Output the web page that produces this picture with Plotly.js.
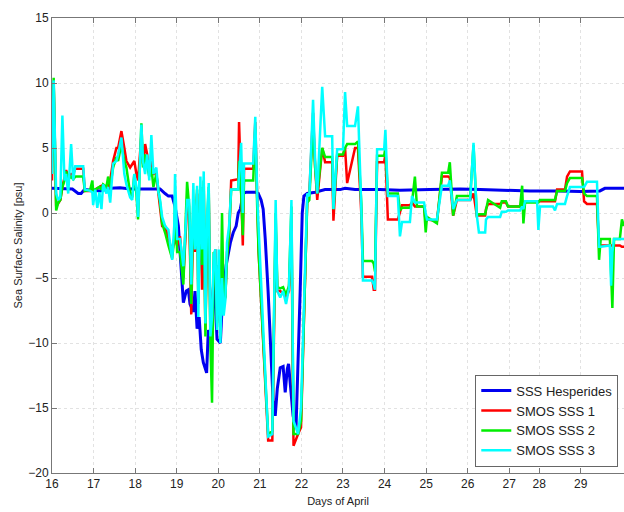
<!DOCTYPE html>
<html>
<head>
<meta charset="utf-8">
<script src="https://cdn.plot.ly/plotly-3.0.1.min.js"></script>
<style>html,body{margin:0;padding:0;background:#fff;}#chart{width:624px;height:512px;}</style>
</head>
<body>
<div id="chart"></div>
<script>
// Hesperides ship-measured SSS (day position, value)
const hespDays = [16.00,16.20,16.49,16.63,16.70,16.78,16.92,17.16,17.40,17.64,17.88,18.12,18.36,18.60,18.72,18.80,18.89,18.96,19.04,19.08,19.16,19.23,19.28,19.32,19.40,19.44,19.49,19.54,19.59,19.64,19.69,19.72,19.76,19.81,19.85,19.90,19.97,20.05,20.09,20.14,20.19,20.29,20.36,20.43,20.48,20.53,20.60,20.67,20.89,20.96,21.03,21.08,21.13,21.20,21.27,21.32,21.37,21.42,21.49,21.56,21.61,21.66,21.69,21.73,21.80,21.87,21.92,21.97,22.02,22.06,22.14,22.33,22.57,22.93,23.05,23.29,23.89,24.37,25.09,25.82,26.30,26.78,27.50,28.22,28.70,29.18,29.30,29.76];
const hespSSS  = [1.9,1.9,1.85,1.5,1.5,1.8,1.75,1.7,1.9,1.95,1.85,1.85,1.9,1.85,1.5,1.3,1.3,0.5,-1.0,-2.8,-6.9,-6.0,-5.9,-7.0,-7.6,-6.0,-8.9,-8.0,-10.5,-11.5,-12.0,-12.3,-9.0,-9.5,-7.2,-5.0,-9.7,-10.0,-7.4,-5.5,-4.0,-2.3,-1.5,-1.0,0.0,0.3,1.5,1.6,1.6,1.5,1.0,0.3,-2.0,-6.1,-11.0,-14.5,-15.6,-13.5,-11.9,-11.8,-13.8,-12.0,-11.6,-13.0,-15.6,-16.6,-12.0,-6.0,0.0,1.3,1.5,1.6,1.8,1.8,1.9,1.8,1.8,1.75,1.8,1.85,1.8,1.75,1.7,1.7,1.65,1.7,1.9,1.9];

// SMOS retrievals (shared day positions)
const smosDays = [16.00,16.04,16.10,16.15,16.20,16.25,16.30,16.34,16.39,16.46,16.51,16.56,16.75,16.79,16.92,16.97,16.99,17.04,17.09,17.14,17.19,17.23,17.31,17.35,17.40,17.47,17.55,17.59,17.67,17.74,17.79,17.88,17.93,17.98,18.03,18.07,18.15,18.19,18.24,18.29,18.34,18.39,18.44,18.51,18.56,18.60,18.65,18.72,18.80,18.89,18.94,18.96,19.01,19.08,19.16,19.25,19.30,19.35,19.40,19.44,19.49,19.52,19.57,19.61,19.65,19.69,19.73,19.77,19.81,19.85,19.89,19.93,19.97,20.01,20.05,20.09,20.13,20.17,20.21,20.26,20.31,20.48,20.50,20.55,20.59,20.62,20.84,20.89,20.94,20.97,21.20,21.30,21.38,21.42,21.49,21.56,21.63,21.70,21.76,21.81,21.92,21.99,22.14,22.19,22.28,22.33,22.38,22.50,22.57,22.74,22.77,22.86,23.00,23.05,23.10,23.29,23.36,23.44,23.48,23.70,23.74,23.77,23.82,23.99,24.02,24.08,24.32,24.37,24.42,24.61,24.66,24.73,24.78,24.95,24.99,25.02,25.26,25.38,25.53,25.57,25.65,25.74,26.06,26.14,26.22,26.27,26.42,26.44,26.49,26.78,26.82,26.92,26.97,27.26,27.31,27.34,27.38,27.67,27.70,27.74,28.05,28.10,28.15,28.34,28.39,28.46,28.75,28.80,28.87,29.11,29.16,29.20,29.42,29.45,29.48,29.52,29.66,29.71,29.76];
const smos3 = [3,10.2,1.5,1.0,1.2,7.5,2.5,3.0,1.5,5.3,2.5,3.6,3.6,1.8,1.7,1.6,0.6,1.8,0.4,1.6,0.3,2.2,1.5,2.0,0.8,3.8,4.0,4.5,5.8,3.0,2.2,1.2,1.0,3.0,2.0,-0.3,6.8,4.0,3.0,4.5,2.5,6.0,3.0,3.5,1.6,1.0,-0.3,-1.0,-1.3,-3.6,-1.0,3.0,-2.0,-2.0,-4.1,1.0,1.0,-5.5,2.3,-2.8,2.1,-8.0,2.8,-2.8,3.2,-8.5,-0.3,2.3,-9.5,-8.0,-3.2,-2.8,-9.0,-2.8,-10.0,-5.0,-7.9,-6.7,-2.3,-1.0,1.8,1.8,3.0,5.4,0.0,3.8,3.8,7.4,1.0,-1.0,-17.2,-17.0,1.0,-6.0,-6.5,-6.0,-7.0,-5.8,1.0,-16.0,-17.0,-15.0,1.5,1.3,8.7,4.0,1.5,9.7,5.9,5.9,0.3,4.9,4.9,9.3,6.7,6.7,8.2,0.5,-5.2,-5.2,-5.5,-5.9,4.9,4.9,6.4,1.3,1.3,-1.8,-0.7,-0.7,1.3,0.8,0.8,0.8,0.0,-0.5,-0.5,2.1,2.1,2.5,0.3,1.0,1.0,5.4,-0.2,-1.5,-1.5,-0.5,-0.3,-0.3,0.1,0.1,0.2,0.2,0.5,0.3,0.9,0.9,-1.3,0.5,0.5,0.2,0.7,0.7,1.3,2.0,2.0,2.0,2.4,2.4,-2.6,-2.6,-2.5,-5.6,-3.0,-2.0,-2.0,-2.0,-2.0];
const smos1 = [2.5,10,0.5,0.8,1.0,2.0,2.8,3.3,2.8,3.0,3.0,3.4,3.4,1.7,1.7,1.8,1.7,1.8,1.9,2.0,2.1,2.0,1.8,1.8,2.5,4.0,5.0,5.0,6.3,5.0,4.0,3.5,3.8,4.0,3.0,2.5,6.0,3.8,5.3,4.5,3.0,4.0,3.0,3.0,1.5,0.5,-1.0,-1.0,-2.0,-3.0,-2.0,-2.0,-2.5,-1.8,-5.0,0.5,0.0,-7.8,0.0,-3.0,1.5,-6.5,1.5,-5.9,2.0,-9.0,-2.0,1.5,-9.0,-9.0,-4.0,-2.8,-8.0,-4.0,-9.0,-4.0,-6.0,-6.5,-3.0,-2.0,2.5,2.6,7.0,1.0,-2.5,3.4,3.4,7.0,1.0,-3.0,-17.5,-17.5,-1.0,-6.0,-6.0,-6.2,-6.5,-6.0,-1.0,-17.9,-17.0,-16.5,1.0,1.5,7.7,3.5,1.0,5.0,3.9,3.9,-0.6,4.4,4.4,5.0,2.3,5.0,5.0,0.0,-4.9,-4.9,-5.9,-5.9,3.9,3.9,4.5,-0.5,-0.5,0.0,0.6,0.6,0.8,0.5,0.5,0.5,-0.7,-0.5,-0.6,2.8,2.8,2.7,-0.2,1.0,1.0,1.5,-0.2,-0.2,-0.2,0.3,0.7,0.7,0.8,0.8,0.5,0.5,0.5,0.6,0.9,0.9,0.9,0.9,0.9,0.9,1.8,1.8,2.8,3.2,3.2,0.9,0.7,0.7,-2.5,-2.5,-2.5,-2.5,-2.5,-2.5,-2.5,-2.6,-2.6];
const smos2 = [3,10.4,0.2,0.8,1.0,2.0,2.5,3.2,2.6,2.8,2.6,2.8,2.8,1.7,1.8,2.5,1.7,1.8,1.9,2.0,1.8,2.2,2.0,2.8,2.0,3.5,4.3,4.0,5.3,4.0,3.5,1.5,1.2,3.0,1.5,-0.5,6.9,3.5,4.5,3.5,2.8,3.5,2.0,3.0,1.8,0.8,-0.8,-1.5,-2.5,-3.5,-2.0,1.0,-3.0,-3.0,-5.5,2.4,0.5,-7.0,1.0,-2.5,1.8,-7.0,2.0,-4.0,2.5,-9.5,-1.0,2.0,-10.0,-14.6,-3.0,-3.5,-8.5,-4.0,-9.5,0.0,-7.0,-6.5,-3.5,-1.5,1.8,1.8,4.0,1.5,-1.7,2.5,2.5,6.5,0.0,-3.0,-17.0,-16.8,0.0,-5.7,-5.8,-5.7,-6.3,-5.6,0.5,-17.0,-17.0,-16.0,0.8,1.0,7.0,3.5,1.5,5.0,4.3,4.3,0.3,4.5,4.5,5.0,5.3,5.3,5.5,0.8,-3.7,-3.7,-3.9,-4.5,4.4,4.4,5.0,1.5,1.5,0.2,0.4,0.4,0.8,2.8,0.5,0.5,-1.5,-0.3,-0.8,3.1,3.1,3.9,-0.2,1.3,1.3,5.2,-0.2,-0.1,-0.1,0.2,1.0,0.4,0.9,0.9,0.5,0.5,2.1,-0.8,0.8,0.8,0.8,1.0,1.0,1.0,1.7,1.7,2.3,2.7,2.7,1.5,1.3,1.3,-3.6,-2.0,-2.0,-5.0,-7.3,-2.0,-2.0,-0.5,-1.0];

const seriesNames = ['SSS Hesperides','SMOS SSS 1','SMOS SSS 2','SMOS SSS 3'];
const xTickVals = [16,17,18,19,20,21,22,23,24,25,26,27,27.72,28.72];
const xTickText = ['16','17','18','19','20','21','22','23','24','25','26','27','28','29'];
const yTickVals = [-20,-15,-10,-5,0,5,10,15];

const traces = [
  {x: hespDays, y: hespSSS, name: seriesNames[0], mode: 'lines', line: {color: '#0000f0', width: 3}},
  {x: smosDays, y: smos1, name: seriesNames[1], mode: 'lines', line: {color: '#ff0000', width: 2.5}},
  {x: smosDays, y: smos2, name: seriesNames[2], mode: 'lines', line: {color: '#00ee00', width: 2.5}},
  {x: smosDays, y: smos3, name: seriesNames[3], mode: 'lines', line: {color: '#00ffff', width: 2.5}}
];

const fontFam = 'Liberation Sans, Arial, Helvetica, sans-serif';
const layout = {
  width: 624, height: 512,
  margin: {l: 52, r: 0, t: 18, b: 39},
  paper_bgcolor: '#fff', plot_bgcolor: '#fff',
  font: {family: fontFam, size: 12, color: '#222'},
  showlegend: true,
  legend: {
    x: 0.74, y: 0.014, xanchor: 'left', yanchor: 'bottom',
    bgcolor: '#fff', bordercolor: '#666', borderwidth: 1,
    font: {family: fontFam, size: 13, color: '#222'},
    tracegroupgap: 0
  },
  xaxis: {
    range: [16, 29.76], tickvals: xTickVals, ticktext: xTickText,
    showline: true, linecolor: '#777', linewidth: 1, mirror: 'ticks',
    ticks: 'inside', ticklen: 5, tickcolor: '#777',
    showgrid: true, gridcolor: '#e2e2e2', griddash: 'dot', gridwidth: 1,
    zeroline: false,
    tickfont: {size: 12, color: '#222'},
    title: {text: 'Days of April', font: {size: 11, color: '#222'}, standoff: 6}
  },
  yaxis: {
    range: [-20, 15], tickvals: yTickVals,
    showline: true, linecolor: '#777', linewidth: 1,
    ticks: 'inside', ticklen: 5, tickcolor: '#777',
    showgrid: true, gridcolor: '#e2e2e2', griddash: 'dot', gridwidth: 1,
    zeroline: false,
    tickfont: {size: 12, color: '#222'},
    title: {text: 'Sea Surface Salinity [psu]', font: {size: 11, color: '#222'}, standoff: 3}
  }
};

Plotly.newPlot('chart', traces, layout, {displayModeBar: false, staticPlot: true});
</script>
</body>
</html>
